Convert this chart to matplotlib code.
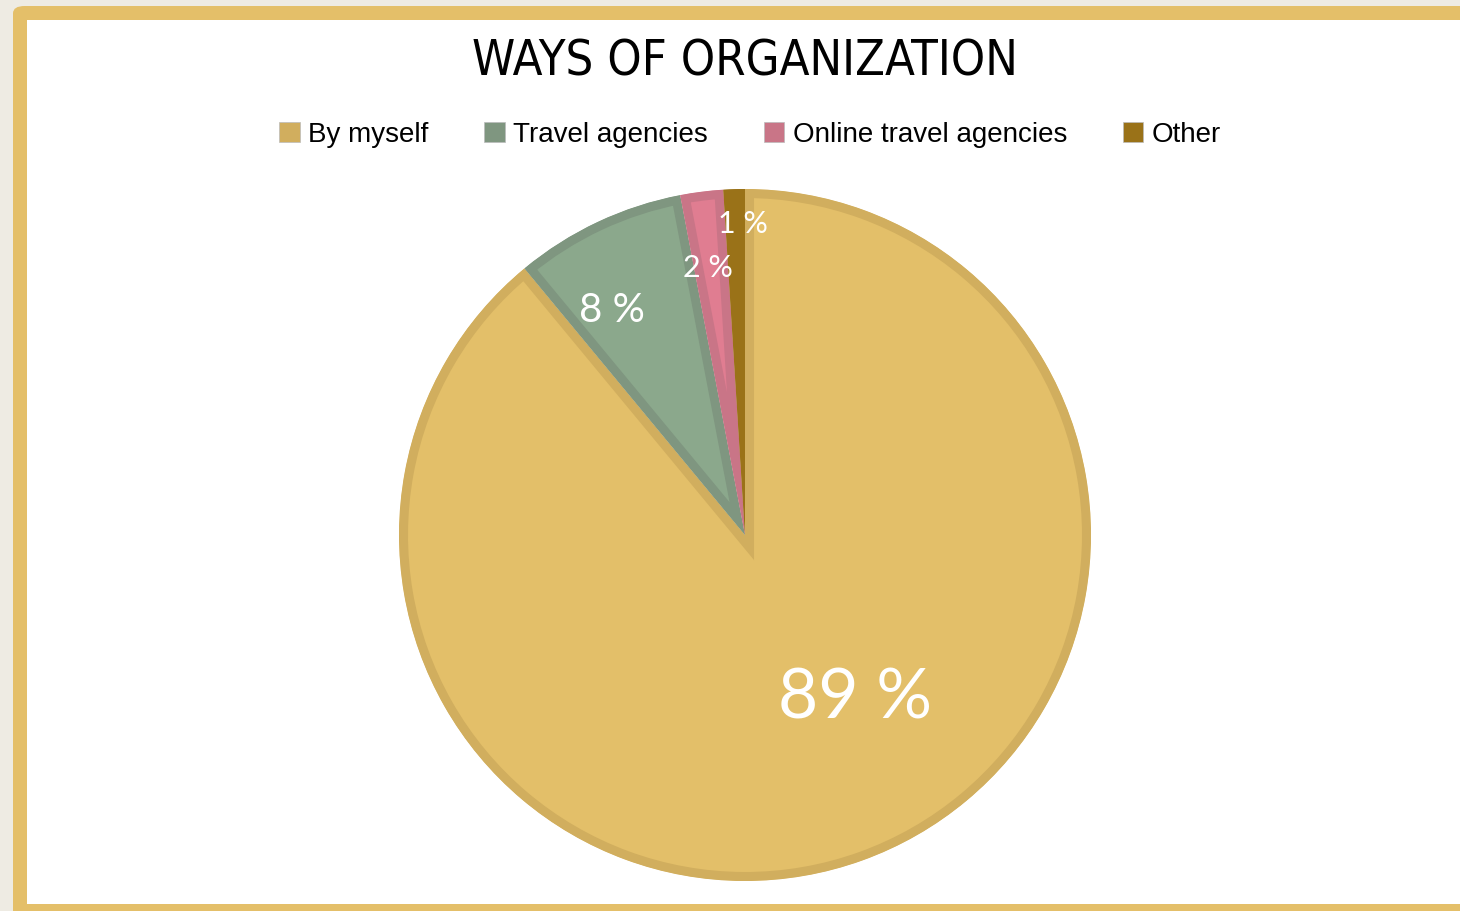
import numpy as np
import matplotlib
matplotlib.use('Agg')
import matplotlib.pyplot as plt
from matplotlib.patches import Rectangle, FancyBboxPatch, Patch

# data
labels = ['By myself', 'Travel agencies', 'Online travel agencies', 'Other']
shares = [89, 8, 2, 1]
pct_text = ['89 %', '8 %', '2 %', '1 %']

# style
fills = ['#E3BF69', '#8BA88C', '#E07D91', '#9A7218']
edges = ['#D1AE5E', '#7F9680', '#C97587', '#9A7218']
label_size = [50, 29, 22, 22]
label_pos = [(-56, 0.57), (120.6, 0.755), (97.9, 0.78), (90.4, 0.90)]  # (angle deg, radius)

W, H = 1460, 911
fig = plt.figure(figsize=(W/100, H/100), dpi=100)
fig.patch.set_facecolor('#EEEBE3')

# frame
fig.patches.append(FancyBboxPatch((13/W, -0.1), 1.2, (H - 6)/H + 0.1, boxstyle='round,pad=0,rounding_size=0.008',
                                  transform=fig.transFigure, facecolor='#E4BF69', edgecolor='none', zorder=-2))
fig.patches.append(Rectangle((27/W, (H - 904)/H), 1.0, (904 - 20)/H, transform=fig.transFigure,
                             facecolor='white', edgecolor='none', zorder=-1))

cx, cy, r = 745, 535, 346
ax = fig.add_axes([(cx - r)/W, (H - cy - r)/H, 2*r/W, 2*r/H])
ax.set_zorder(2)
wedges, _ = ax.pie(shares, colors=fills, startangle=90, counterclock=False, radius=1.0,
                   wedgeprops=dict(linewidth=13, joinstyle='miter'))
ax.set_xlim(-1, 1)
ax.set_ylim(-1, 1)
ax.set_aspect('equal')
ax.axis('off')

# border drawn on the inside of every slice
for w, ec in zip(wedges, edges):
    w.set_edgecolor(ec)
    w.set_clip_on(True)
    w.set_clip_path(w.get_path(), ax.transData)

for t, (ang, rr), fs in zip(pct_text, label_pos, label_size):
    a = np.deg2rad(ang)
    ax.text(rr*np.cos(a), rr*np.sin(a), t, ha='center', va='center', color='white',
            fontsize=fs, family=['Lato', 'DejaVu Sans'])

fig.text(745/W, 1 - 62/H, 'WAYS OF ORGANIZATION', ha='center', va='center', fontsize=35,
         family='DejaVu Sans', stretch='condensed', color='black')

handles = [Patch(facecolor=ec, edgecolor='#BBBBBB', linewidth=0.5) for ec in edges]
fig.legend(handles, labels, loc='center', bbox_to_anchor=(750/W, 1 - 135/H), ncol=4, frameon=False,
           prop=dict(family=['Liberation Sans', 'DejaVu Sans'], size=20),
           handlelength=0.75, handleheight=0.75, handletextpad=0.3, columnspacing=2.0)

fig.savefig('out.png', dpi=100, facecolor=fig.get_facecolor())
